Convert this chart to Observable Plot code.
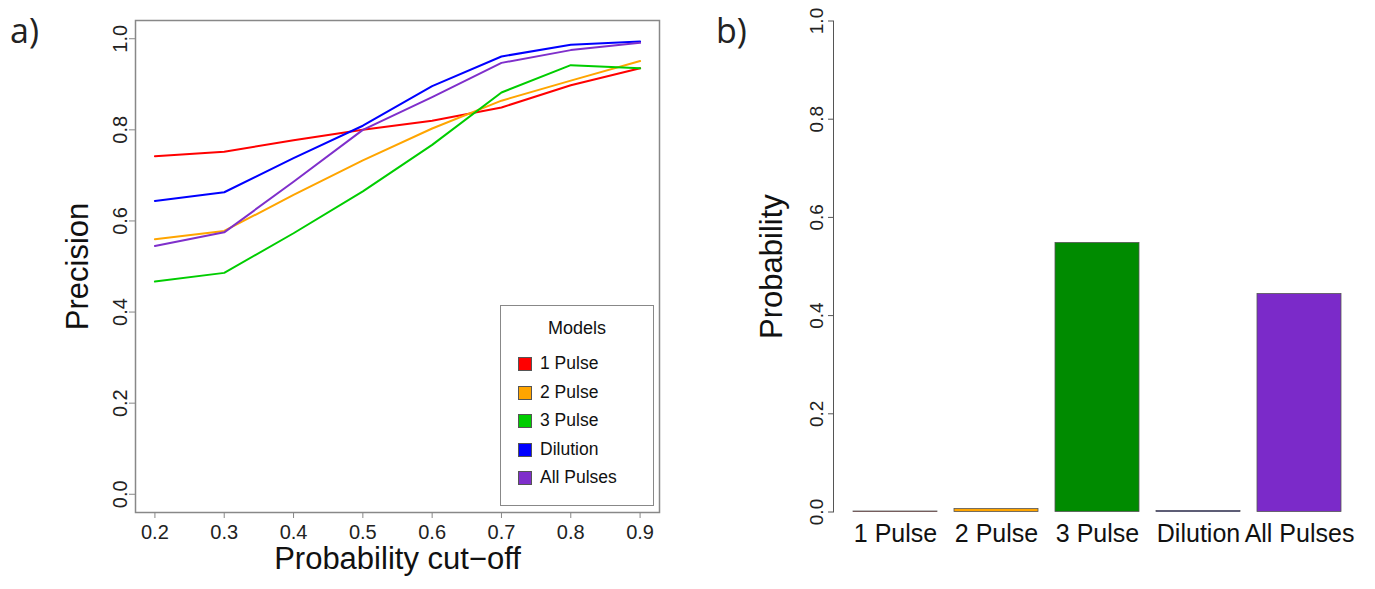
<!DOCTYPE html>
<html><head><meta charset="utf-8">
<script src="https://cdn.jsdelivr.net/npm/d3@7"></script>
<script src="https://cdn.jsdelivr.net/npm/@observablehq/plot@0.6"></script>
<style>
body{margin:0;background:#fff;font-family:"Liberation Sans",Arial,sans-serif;}
#wrap{position:relative;width:1375px;height:589px;overflow:hidden;background:#fff;}
#left,#right{position:absolute;top:0;}
#left{left:0;} #right{left:690px;}
.panel{position:absolute;font-family:"Open Sans",sans-serif;font-size:34px;color:#222;line-height:1;}
#legend{position:absolute;left:500px;top:305px;width:152px;height:199px;border:1.5px solid #888;background:#fff;font-family:"Liberation Sans",Arial,sans-serif;color:#111;}
#legend .title{position:absolute;left:0;width:100%;top:12px;text-align:center;font-size:18px;}
#legend .row{position:absolute;left:17px;font-size:17.5px;line-height:20px;white-space:nowrap;}
#legend .sw{display:inline-block;width:14px;height:14px;border:1px solid #555;vertical-align:-2px;margin-right:8px;box-sizing:border-box;}
</style></head><body>
<div id="wrap">
  <div id="left"></div><div id="right"></div>
  <div class="panel" style="left:10px;top:13px">a)</div>
  <div class="panel" style="left:716px;top:13px">b)</div>
  <div id="legend"></div>
</div>
<script>
// ---- data ----
const cutoffs = [0.2, 0.3, 0.4, 0.5, 0.6, 0.7, 0.8, 0.9];
const models = ["1 Pulse", "2 Pulse", "3 Pulse", "Dilution", "All Pulses"];
const precision1Pulse    = [0.742, 0.752, 0.777, 0.800, 0.820, 0.849, 0.898, 0.935];
const precision2Pulse    = [0.560, 0.578, 0.657, 0.733, 0.803, 0.864, 0.908, 0.951];
const precision3Pulse    = [0.467, 0.486, 0.573, 0.665, 0.767, 0.882, 0.942, 0.935];
const precisionDilution  = [0.644, 0.663, 0.738, 0.809, 0.896, 0.961, 0.987, 0.994];
const precisionAllPulses = [0.545, 0.575, 0.686, 0.800, 0.872, 0.947, 0.975, 0.991];
const modelProbability   = [0.001, 0.006, 0.548, 0.002, 0.444];
const yTicks = [0, 0.2, 0.4, 0.6, 0.8, 1.0];
const lineColors = ["#FF0000", "#FFA500", "#00CD00", "#0000FF", "#7F2FCB"];
const barColors  = ["#FF0000", "#FFA500", "#008B00", "#0000FF", "#7B2AC9"];

const series = [precision1Pulse, precision2Pulse, precision3Pulse, precisionDilution, precisionAllPulses];
const lineData = models.flatMap((m, i) => cutoffs.map((c, j) => ({model: m, cutoff: c, precision: series[i][j]})));
const barData = models.map((m, i) => ({model: m, prob: modelProbability[i]}));
const fmt = d3.format(".1f");
const font = "Liberation Sans, Arial, sans-serif";

const left = Plot.plot({
  width: 690, height: 589,
  marginLeft: 135, marginRight: 31, marginTop: 20, marginBottom: 77,
  style: {fontFamily: font, background: "transparent", color: "#222", overflow: "visible"},
  x: {domain: [0.172, 0.928]},
  y: {domain: [-0.04, 1.04]},
  color: {domain: models, range: lineColors},
  marks: [
    Plot.frame({stroke: "#888", strokeWidth: 1.5}),
    Plot.axisX({ticks: cutoffs, tickFormat: fmt, tickSize: 6, tickPadding: 6, fontSize: 20, stroke: "#888", fill: "#222", label: null}),
    Plot.axisY({ticks: yTicks, tickFormat: fmt, tickSize: 6, tickRotate: -90, tickPadding: 3, fontSize: 20, stroke: "#888", fill: "#222", label: null}),
    Plot.line(lineData, {x: "cutoff", y: "precision", z: "model", stroke: "model", strokeWidth: 2}),
    Plot.text(["Probability cut\u2212off"], {frameAnchor: "bottom", dy: 56, fontSize: 31, fill: "#111"}),
    Plot.text(["Precision"], {frameAnchor: "left", textAnchor: "middle", dx: -57, rotate: -90, fontSize: 31, fill: "#111"})
  ]
});
document.getElementById("left").appendChild(left);

const right = Plot.plot({
  width: 685, height: 589,
  marginLeft: 143, marginRight: 14, marginTop: 20.5, marginBottom: 77.5,
  style: {fontFamily: font, background: "transparent", color: "#222", overflow: "visible"},
  x: {domain: models, paddingInner: 1/6, paddingOuter: 0.1933, align: 0.5},
  y: {domain: [0, 1]},
  color: {domain: models, range: barColors},
  marks: [
    Plot.frame({anchor: "left", stroke: "#555", strokeWidth: 1}),
    Plot.axisY({ticks: yTicks, tickFormat: fmt, tickSize: 5, tickRotate: -90, tickPadding: 6, fontSize: 19, stroke: "#555", fill: "#222", label: null}),
    Plot.axisX({tickSize: 0, tickPadding: 12, fontSize: 25, fill: "#111", label: null}),
    Plot.barY(barData, {x: "model", y: "prob", fill: "model", stroke: "#555", strokeWidth: 0.8}),
    Plot.text(["Probability"], {frameAnchor: "left", textAnchor: "middle", dx: -61, rotate: -90, fontSize: 31, fill: "#111"})
  ]
});
document.getElementById("right").appendChild(right);

// legend
const lg = document.getElementById("legend");
const t = document.createElement("div"); t.className = "title"; t.textContent = "Models"; lg.appendChild(t);
models.forEach((m, i) => {
  const r = document.createElement("div"); r.className = "row";
  r.style.top = (47 + i * 28.5) + "px";
  const s = document.createElement("span"); s.className = "sw"; s.style.background = lineColors[i];
  r.appendChild(s); r.appendChild(document.createTextNode(m)); lg.appendChild(r);
});
</script>
</body></html>
